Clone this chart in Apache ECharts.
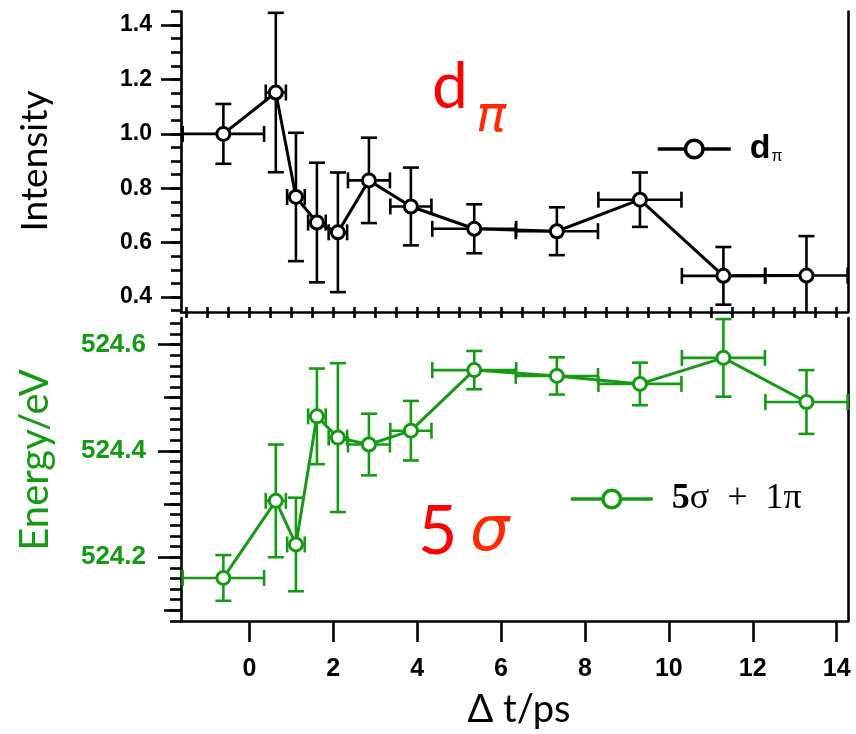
<!DOCTYPE html>
<html>
<head>
<meta charset="utf-8">
<script src="https://cdn.jsdelivr.net/npm/echarts@6/dist/echarts.min.js"></script>
<style>html,body{margin:0;padding:0;background:#fff}#c{width:856px;height:734px}</style>
</head>
<body>
<div id="c"></div>
<script>
// ---- data ----
const times        = [-0.62, 0.63, 1.11, 1.61, 2.11, 2.85, 3.85, 5.36, 7.33, 9.31, 11.3, 13.28];
const timeErr      = [0.97, 0.24, 0.21, 0.21, 0.22, 0.5, 0.49, 1.0, 0.98, 0.99, 0.99, 0.98];
const intensity    = [1.0, 1.152, 0.768, 0.674, 0.638, 0.829, 0.733, 0.651, 0.642, 0.758, 0.478, 0.479];
const intensityErr = [0.11, 0.293, 0.236, 0.22, 0.22, 0.157, 0.143, 0.09, 0.088, 0.1, 0.106, 0.145];
const energy       = [524.161, 524.306, 524.224, 524.465, 524.425, 524.412, 524.438, 524.552, 524.541, 524.526, 524.575, 524.492];
const energyErr    = [0.043, 0.106, 0.088, 0.09, 0.14, 0.058, 0.056, 0.036, 0.035, 0.04, 0.073, 0.06];
const xTickLabels  = [0, 2, 4, 6, 8, 10, 12, 14];
const intTickLabels = [0.4, 0.6, 0.8, 1.0, 1.2, 1.4];
const enTickLabels  = [524.2, 524.4, 524.6];

const BLACK = '#000000', GREEN = '#169a16';
const SANS = '"Liberation Sans", Arial, sans-serif';
const SERIF = '"Liberation Serif", serif';

function steps(a, b, s) { const r = []; for (let v = a; v <= b + 1e-9; v += s) r.push(Math.round(v * 1000) / 1000); return r; }

const topData = times.map((t, i) => [t, intensity[i], timeErr[i], intensityErr[i]]);
const botData = times.map((t, i) => [t, energy[i], timeErr[i], energyErr[i]]);

function errRender(color) {
  return function (params, api) {
    const x = api.value(0), y = api.value(1), xe = api.value(2), ye = api.value(3);
    const cs = params.coordSys;
    const c = api.coord([x, y]);
    const l = api.coord([x - xe, y])[0], r = api.coord([x + xe, y])[0];
    const t = api.coord([x, y + ye])[1], b = api.coord([x, y - ye])[1];
    const x0 = cs.x, x1 = cs.x + cs.width, y0 = cs.y, y1 = cs.y + cs.height;
    const L = Math.max(l, x0), R = Math.min(r, x1), T = Math.max(t, y0), B = Math.min(b, y1);
    const st = { stroke: color, lineWidth: 2.6 };
    const h = 8;
    const ch = [
      { type: 'line', shape: { x1: L, y1: c[1], x2: R, y2: c[1] }, style: st },
      { type: 'line', shape: { x1: c[0], y1: T, x2: c[0], y2: B }, style: st }
    ];
    if (l >= x0 - 0.5) ch.push({ type: 'line', shape: { x1: l, y1: c[1] - h, x2: l, y2: c[1] + h }, style: st });
    if (r <= x1 + 0.5) ch.push({ type: 'line', shape: { x1: r, y1: c[1] - h, x2: r, y2: c[1] + h }, style: st });
    if (t >= y0 - 0.5) ch.push({ type: 'line', shape: { x1: c[0] - h, y1: t, x2: c[0] + h, y2: t }, style: st });
    if (b <= y1 + 0.5) ch.push({ type: 'line', shape: { x1: c[0] - h, y1: b, x2: c[0] + h, y2: b }, style: st });
    return { type: 'group', children: ch };
  };
}

const axLine = { show: true, onZero: false, lineStyle: { color: BLACK, width: 2.6 } };
const noLine = { show: false, onZero: false };
const X_MIN = -1.63, X_MAX = 14.27;

const option = {
  animation: false,
  backgroundColor: '#fff',
  grid: [
    { left: 181, top: 11.5, width: 667, height: 300.5 },
    { left: 181, top: 318, width: 667, height: 303 }
  ],
  xAxis: [
    { type: 'value', gridIndex: 0, min: X_MIN, max: X_MAX, axisLine: axLine, splitLine: { show: false },
      axisTick: { show: true, customValues: steps(-1.5, 14, 0.5), length: 3, lineStyle: { width: 2, color: BLACK } },
      axisLabel: { show: false } },
    { type: 'value', gridIndex: 1, min: X_MIN, max: X_MAX, axisLine: axLine, splitLine: { show: false },
      axisTick: { show: true, customValues: xTickLabels, length: 21, lineStyle: { width: 2.6, color: BLACK } },
      axisLabel: { show: true, customValues: xTickLabels, margin: 36, color: BLACK, fontFamily: SANS, fontWeight: 'bold', fontSize: 25 } },
    { type: 'value', gridIndex: 1, min: X_MIN, max: X_MAX, axisLine: noLine, splitLine: { show: false },
      axisTick: { show: true, customValues: steps(-1.5, 14, 0.5), length: 11, lineStyle: { width: 2.6, color: BLACK } },
      axisLabel: { show: false } }
  ],
  yAxis: [
    { type: 'value', gridIndex: 0, min: 0.345, max: 1.45, position: 'left', axisLine: axLine, splitLine: { show: false },
      axisTick: { show: true, customValues: intTickLabels, length: 20, lineStyle: { width: 2.6, color: BLACK } },
      axisLabel: { show: true, customValues: intTickLabels, margin: 29, color: BLACK, fontFamily: SANS, fontWeight: 'bold', fontSize: 23,
                   formatter: v => v.toFixed(1) } },
    { type: 'value', gridIndex: 0, min: 0.345, max: 1.45, position: 'left', axisLine: noLine, splitLine: { show: false },
      axisTick: { show: true, customValues: steps(0.35, 1.45, 0.05), length: 10, lineStyle: { width: 2.6, color: BLACK } },
      axisLabel: { show: false } },
    { type: 'value', gridIndex: 0, min: 0.345, max: 1.45, position: 'right', axisLine: axLine, splitLine: { show: false },
      axisTick: { show: false }, axisLabel: { show: false } },
    { type: 'value', gridIndex: 1, min: 524.08, max: 524.65, position: 'left', axisLine: axLine, splitLine: { show: false },
      axisTick: { show: true, customValues: enTickLabels, length: 23, lineStyle: { width: 2.6, color: BLACK } },
      axisLabel: { show: true, customValues: enTickLabels, margin: 35, color: GREEN, fontFamily: SANS, fontWeight: 'bold', fontSize: 26,
                   formatter: v => v.toFixed(1) } },
    { type: 'value', gridIndex: 1, min: 524.08, max: 524.65, position: 'left', axisLine: noLine, splitLine: { show: false },
      axisTick: { show: true, customValues: [524.1, 524.3, 524.5], length: 17, lineStyle: { width: 2.6, color: BLACK } },
      axisLabel: { show: false } },
    { type: 'value', gridIndex: 1, min: 524.08, max: 524.65, position: 'left', axisLine: noLine, splitLine: { show: false },
      axisTick: { show: true, customValues: steps(524.08, 524.64, 0.02), length: 11, lineStyle: { width: 2.6, color: BLACK } },
      axisLabel: { show: false } },
    { type: 'value', gridIndex: 1, min: 524.08, max: 524.65, position: 'right', axisLine: axLine, splitLine: { show: false },
      axisTick: { show: false }, axisLabel: { show: false } }
  ],
  legend: [
    { data: ['dπ'], left: 656, top: 132, padding: 0, itemWidth: 73, itemHeight: 22,
      lineStyle: { width: 3.5 }, itemStyle: { borderWidth: 3.5 },
      formatter: () => '{d|d}{p|π}',
      textStyle: { padding: [0, 0, 0, 14], rich: {
        d: { fontFamily: SANS, fontWeight: 'bold', fontSize: 34, color: BLACK },
        p: { fontFamily: SANS, fontSize: 16, color: BLACK, padding: [16, 0, 0, 1] } } } },
    { data: ['5σ + 1π'], left: 569, top: 481, padding: 0, itemWidth: 82, itemHeight: 22,
      lineStyle: { width: 3.5 }, itemStyle: { borderWidth: 3.5 },
      formatter: () => '{b|5}{n|σ}{n|  +  }{n|1π}',
      textStyle: { padding: [0, 0, 0, 14], rich: {
        b: { fontFamily: SERIF, fontWeight: 'bold', fontSize: 36, color: BLACK },
        n: { fontFamily: SERIF, fontSize: 36, color: BLACK } } } }
  ],
  graphic: [
    { type: 'text', x: 35, y: 161, rotation: Math.PI / 2, style: { text: 'Intensity', x: 0, y: 0, align: 'center', verticalAlign: 'middle', font: '37px Lato', fill: BLACK } },
    { type: 'text', x: 35, y: 460, rotation: Math.PI / 2, style: { text: 'Energy/eV', x: 0, y: 0, align: 'center', verticalAlign: 'middle', font: '40px Lato', fill: GREEN } },
    { type: 'text', x: 519, y: 710, style: { text: 'Δ t/ps', x: 0, y: 0, align: 'center', verticalAlign: 'middle', font: '38px Lato', fill: BLACK } },
    { type: 'text', x: 432, y: 87, style: { text: 'd', x: 0, y: 0, align: 'left', verticalAlign: 'middle', font: '64px Lato', fill: '#ff0000' } },
    { type: 'text', x: 476, y: 118, style: { text: 'π', x: 0, y: 0, align: 'left', verticalAlign: 'middle', font: 'italic 50px "DejaVu Sans"', fill: '#ff2a00' } },
    { type: 'text', x: 418, y: 532, style: { text: '5', x: 0, y: 0, align: 'left', verticalAlign: 'middle', font: '68px Lato', fill: '#ff0000' } },
    { type: 'text', x: 470, y: 534, style: { text: 'σ', x: 0, y: 0, align: 'left', verticalAlign: 'middle', font: 'italic 62px "DejaVu Sans"', fill: '#ff2a00' } }
  ],
  series: [
    { type: 'custom', name: 'errTop', xAxisIndex: 0, yAxisIndex: 0, z: 2, renderItem: errRender(BLACK), data: topData, encode: { x: 0, y: 1 } },
    { type: 'custom', name: 'errBot', xAxisIndex: 1, yAxisIndex: 3, z: 2, renderItem: errRender(GREEN), data: botData, encode: { x: 0, y: 1 } },
    { type: 'line', name: 'dπ', xAxisIndex: 0, yAxisIndex: 0, z: 3, data: times.map((t, i) => [t, intensity[i]]),
      symbol: 'circle', symbolSize: 13, lineStyle: { color: BLACK, width: 3 },
      itemStyle: { color: '#fff', borderColor: BLACK, borderWidth: 3 } },
    { type: 'line', name: '5σ + 1π', xAxisIndex: 1, yAxisIndex: 3, z: 3, data: times.map((t, i) => [t, energy[i]]),
      symbol: 'circle', symbolSize: 13, lineStyle: { color: GREEN, width: 3 },
      itemStyle: { color: '#fff', borderColor: GREEN, borderWidth: 3 } }
  ]
};

const chart = echarts.init(document.getElementById('c'), null, { renderer: 'canvas' });
chart.setOption(option);
</script>
</body>
</html>
